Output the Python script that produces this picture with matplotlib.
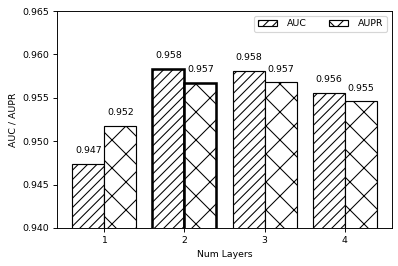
import matplotlib
matplotlib.use("Agg")
import matplotlib.pyplot as plt
import numpy as np

layers = [1, 2, 3, 4]
auc = [0.9474, 0.9583, 0.9581, 0.9556]
aupr = [0.9518, 0.9567, 0.9568, 0.9546]
labels_auc = ["0.947", "0.958", "0.958", "0.956"]
labels_aupr = ["0.952", "0.957", "0.957", "0.955"]
yticks = [0.940, 0.945, 0.950, 0.955, 0.960, 0.965]

DPI = 84
plt.rcParams['font.size'] = 8
plt.rcParams['hatch.linewidth'] = 0.9
fig = plt.figure(figsize=(398 / DPI, 266 / DPI), dpi=DPI)
ax = fig.add_axes([0.1432, 0.1429, 0.985 - 0.1432, 0.9586 - 0.1429])

x = np.array(layers, dtype=float)
w = 0.4
lws = [1.0, 2.2, 1.0, 1.0]
b1 = ax.bar(x - w / 2, auc, w, color='white', edgecolor='black', hatch='///', label='AUC', linewidth=lws)
b2 = ax.bar(x + w / 2, aupr, w, color='white', edgecolor='black', hatch='x', label='AUPR', linewidth=lws)

for xi, v, t in zip(x - w / 2, auc, labels_auc):
    ax.text(xi, v + 0.001, t, ha='center', va='bottom')
for xi, v, t in zip(x + w / 2, aupr, labels_aupr):
    ax.text(xi, v + 0.001, t, ha='center', va='bottom')

ax.set_ylim(0.940, 0.965)
ax.set_yticks(yticks)
ax.set_yticklabels([f"{t:.3f}" for t in yticks])
ax.set_xticks(x)
ax.set_xticklabels([str(l) for l in layers])
ax.set_xlabel('Num Layers')
ax.set_ylabel('AUC / AUPR')
leg = ax.legend(loc='upper right', ncol=2, handletextpad=1.1, columnspacing=2.4)
for h in leg.legend_handles:
    h.set_linewidth(1.0)

fig.savefig('out.png', dpi=DPI)
